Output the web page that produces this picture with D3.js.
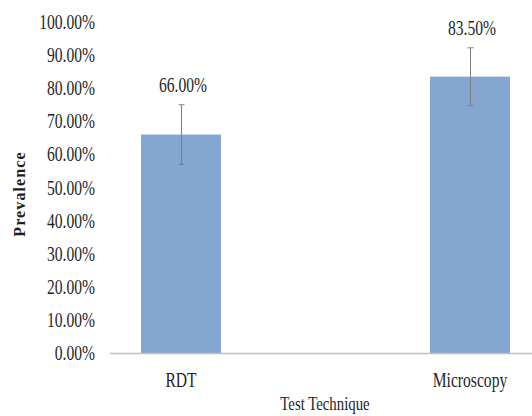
<!DOCTYPE html>
<html>
<head>
<meta charset="utf-8">
<script src="https://cdn.jsdelivr.net/npm/d3@7"></script>
<style>
  body { margin: 0; background: #fff; }
  svg { display: block; }
</style>
</head>
<body>
<div id="chart"></div>
<script>
// 데이터
const categories = ['RDT', 'Microscopy'];
const values = [66.0, 83.5];
const errors = [9.0, 8.7];
const valueLabels = ['66.00%', '83.50%'];
const yTicks = [0, 10, 20, 30, 40, 50, 60, 70, 80, 90, 100];

const W = 532, H = 416;
const FONT = '"Liberation Serif", "DejaVu Serif", serif';
const SQ = 0.78; // 가로로 눌린 글꼴 흉내

const svg = d3.select('#chart')
    .append('svg')
    .attr('width', W)
    .attr('height', H);

// 스케일
const x = d3.scalePoint()
    .domain(categories)
    .range([110, 541])
    .padding(0.2457);

const y = d3.scaleLinear()
    .domain([0, 100])
    .range([353, 22]);

const barW = 80;

function squashText(g, tx, ty, txt, size, anchor) {
    return g.append('text')
        .attr('transform', `translate(${tx},${ty}) scale(${SQ},1)`)
        .attr('text-anchor', anchor)
        .style('font-family', FONT)
        .style('font-size', size + 'px')
        .attr('fill', '#1f1f1f')
        .text(txt);
}

// Y축 눈금 레이블
yTicks.forEach(t => {
    squashText(svg, 95, y(t), t.toFixed(2) + '%', 20, 'end')
        .attr('dy', '0.35em');
});

// 막대
svg.selectAll('.bar')
    .data(categories)
    .enter()
    .append('rect')
    .attr('class', 'bar')
    .attr('x', d => x(d) - barW / 2)
    .attr('y', (d, i) => y(values[i]))
    .attr('width', barW)
    .attr('height', (d, i) => y(0) - y(values[i]))
    .attr('fill', '#84A7D2');

// X축 선
svg.append('line')
    .attr('x1', 110)
    .attr('x2', W)
    .attr('y1', y(0) + 0.5)
    .attr('y2', y(0) + 0.5)
    .attr('stroke', '#BFBFBF')
    .attr('stroke-width', 1.5);

// 오차 막대
categories.forEach((c, i) => {
    const cx = Math.round(x(c)) + 0.5;
    const top = y(values[i] + errors[i]);
    const bot = y(values[i] - errors[i]);
    const g = svg.append('g')
        .attr('stroke', '#7F7F7F')
        .attr('stroke-width', 1);
    g.append('line').attr('x1', cx).attr('x2', cx).attr('y1', top).attr('y2', bot);
    g.append('line').attr('x1', cx - 3).attr('x2', cx + 3).attr('y1', top).attr('y2', top);
    g.append('line').attr('x1', cx - 3).attr('x2', cx + 3).attr('y1', bot).attr('y2', bot);

    // 값 레이블
    squashText(svg, x(c) + 2, top - 13, valueLabels[i], 20, 'middle');

    // 범주 레이블
    squashText(svg, x(c), 387, c, 20, 'middle');
});

// X축 제목
squashText(svg, 325, 410, 'Test Technique', 19, 'middle');

// Y축 제목
svg.append('text')
    .attr('transform', `translate(25,194) rotate(-90)`)
    .attr('text-anchor', 'middle')
    .style('font-family', FONT)
    .style('font-size', '16px')
    .style('font-weight', 'bold')
    .style('letter-spacing', '1.1px')
    .attr('fill', '#1f1f1f')
    .text('Prevalence');
</script>
</body>
</html>
